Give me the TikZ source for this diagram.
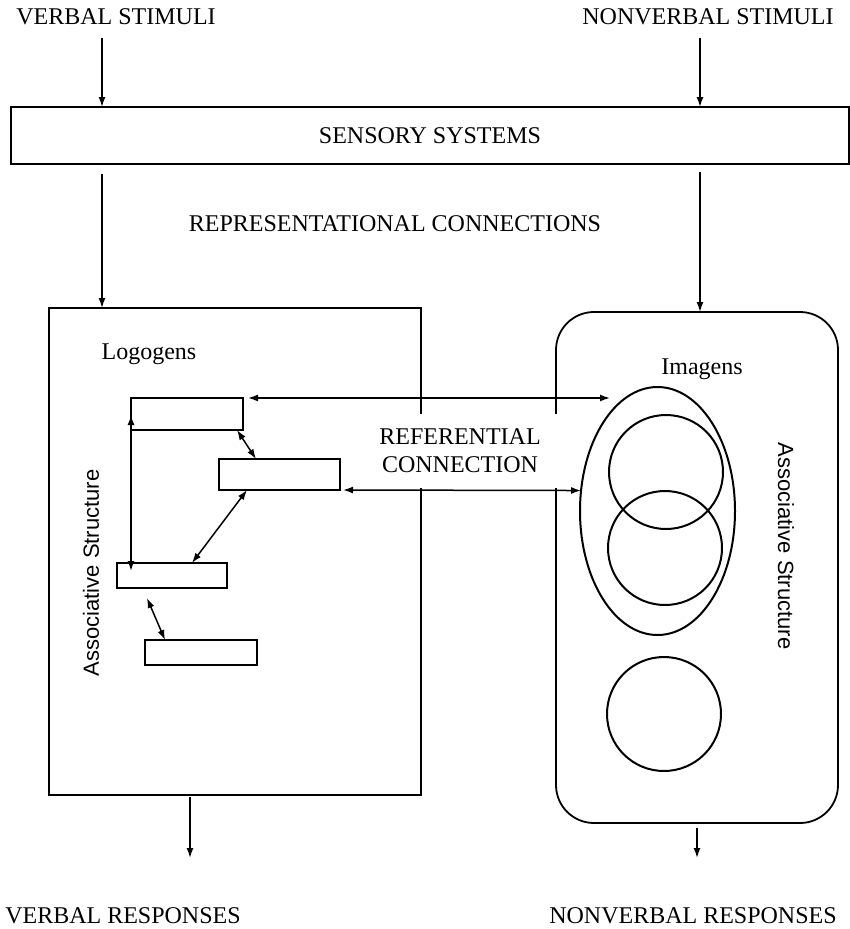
\documentclass[tikz,border=0pt]{standalone}
\usepackage{fontspec}
\setmainfont{Liberation Serif}
\newfontfamily\assocfont{Liberation Sans}
\usetikzlibrary{arrows.meta,calc,shapes.geometric}
\begin{document}
\begin{tikzpicture}[x=1pt,y=-1pt,
  lbl/.style={font=\fontsize{24}{28}\selectfont, inner sep=0pt},
  assoc/.style={font=\assocfont\fontsize{22}{26}\selectfont, inner sep=0pt},
  bigbox/.style={draw, line width=1.8pt, inner sep=0pt, outer sep=0pt},
  lrect/.style={draw, line width=1.8pt, inner sep=0pt, outer sep=0pt},
  ring/.style={draw, line width=2pt, inner sep=0pt, outer sep=0pt},
  arr/.style={-{Latex[length=10pt,width=7pt]}, line width=1.5pt},
  dbl/.style={{Latex[length=10pt,width=7pt]}-{Latex[length=10pt,width=7pt]}, line width=1.5pt}
]
\useasboundingbox (0,0) rectangle (850,929);

% texts
\node[lbl] (vs) at (116,17) {VERBAL STIMULI};
\node[lbl] (nvs) at (708,17) {NONVERBAL STIMULI};
\node[lbl] (rep) at (395,224) {REPRESENTATIONAL CONNECTIONS};
\node[lbl] (vr) at (123,916) {VERBAL RESPONSES};
\node[lbl] (nvr) at (693,916) {NONVERBAL RESPONSES};

% sensory box
\node[bigbox, lbl, minimum width=838pt, minimum height=57pt] (sens) at (430,135.5) {SENSORY SYSTEMS};

% logogen box and imagen box
\node[bigbox, minimum width=372pt, minimum height=487pt] (logo) at (235,551.5) {};
\node[bigbox, rounded corners=38pt, minimum width=282pt, minimum height=511pt] (img) at (697,567.5) {};

\node[lbl] (logt) at (149,354) {Logogens};
\node[lbl] (imgt) at (702,369) {Imagens};
\node[assoc, rotate=90] (asl) at (91,573) {Associative Structure};
\node[assoc, rotate=-90] (asr) at (786,546) {Associative Structure};

% logogen rectangles
\node[lrect, minimum width=112pt, minimum height=32pt] (R1) at (187,414) {};
\node[lrect, minimum width=121pt, minimum height=31pt] (R2) at (279.5,474.5) {};
\node[lrect, minimum width=110pt, minimum height=25pt] (R3) at (172,575.5) {};
\node[lrect, minimum width=112pt, minimum height=25pt] (R4) at (201,652.5) {};

% imagens
\node[ring, ellipse, minimum width=155pt, minimum height=248pt] (E) at (657.5,511) {};
\node[ring, circle, minimum size=114pt] (C1) at (666,472) {};
\node[ring, circle, minimum size=114pt] (C2) at (665,548) {};
\node[ring, circle, minimum size=114pt] (C3) at (664,714) {};

% referential label (white patch over box edges)
\node[lbl, fill=white, align=center, minimum width=200pt, minimum height=74pt] (ref) at (460,451) {REFERENTIAL\\CONNECTION};

% free ends
\coordinate (vsA) at (102,38);
\coordinate (nvsA) at (700,38);
\coordinate (sL) at (102,174);
\coordinate (sR) at (700,172);
\coordinate (vrA) at (190,858);
\coordinate (nvrA) at (697,858);
\coordinate (refT) at (610,398);

% vertical flow arrows
\draw[arr] (vsA) -- (vsA |- sens.north);
\draw[arr] (nvsA) -- (nvsA |- sens.north);
\draw[arr] (sL) -- (sL |- logo.north);
\draw[arr] (sR) -- (sR |- img.north);
\draw[arr] ($(vrA |- logo.south)+(0,2)$) -- (vrA);
\draw[arr] ($(nvrA |- img.south)+(0,5)$) -- (nvrA);

% associative arrows among logogens
\draw[dbl] ($(R3.north west)+(14,8)$) -- ($(R1.south west)+(0,-15)$);
\draw[dbl] ($(R1.south east)+(-6,0)$) -- ($(R2.north west)+(37,0)$);
\draw[dbl] ($(R2.south west)+(28,0)$) -- ($(R3.north west)+(75,0)$);
\draw[dbl] ($(R3.south west)+(30,10)$) -- ($(R4.north west)+(20,0)$);

% referential arrows
\draw[dbl] ($(R1.north east)+(5,0)$) -- (refT);
\draw[dbl] ($(R2.south east)+(3,0)$) -- (E.165);
\end{tikzpicture}
\end{document}
